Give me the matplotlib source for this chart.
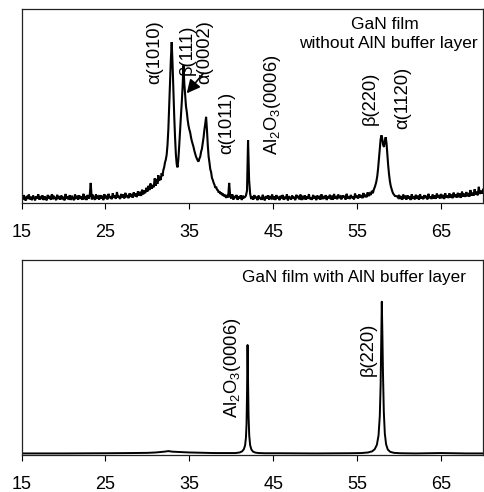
import numpy as np
import matplotlib
matplotlib.use('Agg')
import matplotlib.pyplot as plt

plt.rcParams['font.family'] = ['Liberation Sans', 'DejaVu Sans']
plt.rcParams['mathtext.fontset'] = 'custom'
plt.rcParams['mathtext.rm'] = 'Liberation Sans'
plt.rcParams['mathtext.it'] = 'Liberation Sans:italic'
plt.rcParams['mathtext.bf'] = 'Liberation Sans:bold'

# ---------------- data: top panel (GaN without AlN buffer) ----------------
# segments: (start 2theta, step, intensities)
top_seg1_start, top_seg1_step = 15.0, 0.125
top_seg1_y = [3.1, 1.8, 4.2, 2.6, 1.4, 3.8, 2.2, 4.5,
              2.0, 3.3, 1.6, 4.0, 2.9, 1.5, 3.6, 2.4,
              4.6, 1.9, 3.0, 2.3, 4.1, 1.7, 3.5, 2.8,
              1.5, 4.3, 2.5, 3.2, 1.8, 4.7, 2.1, 3.4,
              2.7, 1.6, 4.4, 2.2, 3.7, 1.9, 4.0, 2.6,
              3.3, 1.5, 4.8, 2.4, 3.0, 2.0, 4.2, 1.7,
              3.9, 2.5, 1.6, 4.5, 2.8, 3.4, 1.9, 4.1,
              2.3, 3.6, 1.8, 4.9, 2.6, 3.1, 1.7, 4.3,
              2.4, 3.8, 10.5, 2.0, 4.4, 2.7, 1.8, 4.6,
              2.9, 3.5, 1.9, 4.2, 2.4, 3.9, 1.6, 4.7,
              2.6, 3.3, 2.0, 4.9, 2.7, 3.6, 2.1, 5.2,
              2.8, 4.0, 2.3, 5.8, 2.9, 3.7, 2.2, 4.8,
              3.0, 4.5, 2.5, 5.4, 3.1, 4.2, 2.6, 5.1,
              3.3, 4.8, 2.9, 5.6, 3.6, 5.0, 3.2, 6.2,
              4.0, 5.9, 3.8, 7.0, 4.6, 6.5, 5.2, 8.0,
              6.0, 9.0, 6.8, 10.2, 7.5, 9.4, 8.2, 12.8]
top_seg2_start, top_seg2_step = 31.0, 0.1
top_seg2_y = [9.0, 12.5, 10.0, 14.5, 11.5, 13.5, 12.0, 15.5, 14.0, 17.0,
              18.5, 21.0, 22.5, 25.0, 30.0, 38.0, 50.0, 62.0, 74.0, 83.0,
              72.0, 58.0, 45.0, 34.0, 25.0, 20.0, 18.5, 23.0, 30.0, 38.0,
              45.0, 52.0, 60.0, 71.0, 62.0, 56.0, 50.0, 47.0, 43.0, 40.0,
              38.0, 36.5, 34.0, 32.0, 30.5, 29.0, 27.0, 25.5, 24.0, 23.0,
              22.0, 21.5, 23.0, 24.0, 26.5, 28.0, 31.0, 34.0, 38.0, 41.0,
              44.5, 38.0, 30.0, 24.0, 21.0, 17.5, 16.0, 13.0, 12.0, 10.5,
              9.5, 8.0, 8.5, 7.0, 6.8, 5.5, 6.2, 4.8, 5.6, 4.2]
top_seg3_start, top_seg3_step = 39.0, 0.125
top_seg3_y = [5.0, 3.6, 4.4, 2.8, 4.2, 3.0, 10.5, 3.4,
              2.5, 4.6, 1.9, 3.7, 2.7, 4.3, 1.8, 3.5,
              2.4, 4.1, 1.7, 3.9, 2.9, 3.2, 4.0, 6.5,
              32.5, 12.0, 4.8, 2.2, 3.6, 1.9, 4.2, 2.6,
              3.4, 1.6, 4.0, 2.3, 3.1, 1.8, 4.4, 2.5,
              1.5, 3.7, 2.4, 4.1, 1.9, 3.2, 2.6, 4.5,
              2.0, 3.5, 1.7, 4.2, 2.8, 3.0, 1.6, 3.9,
              2.5, 4.3, 1.8, 3.4, 2.2, 4.6, 1.5, 3.6,
              2.9, 1.9, 4.0, 2.4, 3.3, 1.6, 4.4, 2.7,
              3.8, 2.0, 4.5, 1.7, 3.2, 2.6, 4.1, 1.9,
              3.5, 2.3, 4.7, 2.1, 3.0, 1.8, 4.3, 2.5,
              3.7, 1.6, 4.0, 2.8, 3.3, 1.9, 4.6, 2.2,
              3.1, 2.4, 4.2, 1.7, 3.6, 2.6, 4.4, 2.0,
              3.9, 1.8, 4.8, 2.5, 3.2, 2.1, 4.5, 2.7,
              3.4, 2.0, 4.1, 2.9, 3.8, 1.9, 4.9, 2.4,
              3.6, 2.2, 4.3, 2.7, 3.5, 2.0, 5.0, 2.8,
              3.9, 2.5, 4.6, 3.0, 4.2, 2.6, 5.3, 3.2,
              4.4, 3.1, 5.6, 3.7, 5.0, 4.3, 6.4, 5.2,
              7.2, 8.6, 10.5]
top_seg4_start, top_seg4_step = 57.3, 0.1
top_seg4_y = [11.5, 14.0, 18.0, 23.0, 28.5, 33.0, 35.0, 33.0, 30.0, 29.0,
              32.0, 34.0, 31.0, 25.0, 19.5, 15.0, 11.5, 9.0, 7.5, 6.0,
              5.0, 4.4, 3.8]
top_seg5_start, top_seg5_step = 59.75, 0.125
top_seg5_y = [3.6, 2.9,
              4.3, 2.2, 3.7, 1.8, 4.5, 2.6, 3.3, 1.9,
              4.1, 2.4, 3.6, 1.7, 4.6, 2.8, 3.2, 2.0,
              4.4, 2.3, 3.9, 1.8, 4.7, 2.5, 3.4, 2.1,
              4.2, 2.7, 3.8, 2.0, 4.9, 2.6, 3.5, 2.2,
              4.5, 2.4, 4.0, 2.3, 5.0, 2.9, 3.7, 2.5,
              4.8, 2.6, 4.3, 2.2, 5.2, 3.0, 4.0, 2.7,
              5.1, 2.9, 4.5, 2.6, 5.5, 3.2, 4.6, 3.0,
              5.4, 3.1, 5.0, 2.8, 6.0, 3.5, 4.9, 3.3,
              5.8, 3.6, 5.3, 3.4, 6.8, 4.0, 5.5, 3.9,
              7.2, 4.4, 6.0, 4.1, 8.5, 4.8, 6.4, 5.0,
              7.0]

top_segments = [
    (top_seg1_start, top_seg1_step, top_seg1_y),
    (top_seg2_start, top_seg2_step, top_seg2_y),
    (top_seg3_start, top_seg3_step, top_seg3_y),
    (top_seg4_start, top_seg4_step, top_seg4_y),
    (top_seg5_start, top_seg5_step, top_seg5_y),
]
top_x = np.concatenate([s + st * np.arange(len(y)) for s, st, y in top_segments])
top_y = np.concatenate([np.asarray(y, float) for _, _, y in top_segments])

# ---------------- data: bottom panel (GaN with AlN buffer) ----------------
bot_x = [15, 20, 25, 28, 30, 31, 32, 32.5, 33, 34, 35, 36, 38, 39.5,
         40.5, 41.0, 41.3, 41.5, 41.65, 41.75, 41.82, 41.88, 41.94, 42.0,
         42.06, 42.14, 42.25, 42.4, 42.6, 42.9, 43.3, 44, 46, 50, 54,
         55.5, 56.3, 56.8, 57.1, 57.35, 57.55, 57.7, 57.8, 57.87, 57.94,
         58.01, 58.08, 58.18, 58.3, 58.45, 58.65, 58.95, 59.4, 60.2, 62,
         65, 68, 70]
bot_y = [0.8, 0.8, 0.9, 1.0, 1.1, 1.3, 1.7, 2.0, 1.7, 1.5, 1.3, 1.2, 1.0, 1.0,
         1.0, 1.3, 1.9, 3.0, 5.0, 9.0, 16.0, 32.0, 56.4, 38.0,
         20.0, 10.0, 5.0, 2.8, 1.7, 1.2, 1.0, 0.9, 0.9, 0.8, 0.9,
         1.0, 1.3, 1.9, 3.0, 5.2, 10.0, 20.0, 36.0, 58.0, 78.6,
         62.0, 42.0, 22.0, 11.0, 5.5, 2.8, 1.6, 1.1, 0.9, 0.8,
         1.0, 0.8, 0.8]

x_ticks = [15, 25, 35, 45, 55, 65]

top_corner = ["GaN film", "without AlN buffer layer"]
bot_corner = "GaN film with AlN buffer layer"

top_labels = ["α(1010)", "β(111)", "α(0002)", "α(1011)",
              "Al$_2$O$_3$(0006)", "β(220)", "α(1120)"]
top_label_x = [30.91, 34.7, 36.85, 39.5, 44.86, 56.6, 60.4]
top_label_y = [77.9, 79.0, 77.9, 41.6, 50.8, 54.2, 54.5]

bot_labels = ["Al$_2$O$_3$(0006)", "β(220)"]
bot_label_x = [40.09, 56.3]
bot_label_y = [44.9, 54.4]

# ---------------- figure ----------------
W, H = 485, 492
fig = plt.figure(figsize=(W / 100, H / 100), dpi=100)

def px_axes(left, top, right, bottom):
    return fig.add_axes([left / W, 1 - bottom / H, (right - left) / W, (bottom - top) / H])

ax1 = px_axes(21.5, 9, 483, 203.3)
ax2 = px_axes(21.5, 260, 483, 455)

for ax in (ax1, ax2):
    ax.set_xlim(15, 70)
    ax.set_ylim(0, 100)
    ax.set_yticks([])
    ax.set_xticks(x_ticks)
    ax.set_xticklabels([str(t) for t in x_ticks])
    ax.tick_params(axis='x', direction='out', length=4, width=0.8,
                   labelsize=13, pad=11, colors='black')
    for sp in ax.spines.values():
        sp.set_linewidth(0.9)
        sp.set_color('#222222')

ax1.plot(top_x, top_y, color='black', lw=1.5, solid_joinstyle='miter')
ax2.plot(bot_x, bot_y, color='black', lw=1.4)

lab_fs = 13.2
for t, x, y in zip(top_labels, top_label_x, top_label_y):
    ax1.text(x, y, t, rotation=90, ha='center', va='center', fontsize=lab_fs)
for t, x, y in zip(bot_labels, bot_label_x, bot_label_y):
    ax2.text(x, y, t, rotation=90, ha='center', va='center', fontsize=lab_fs)

ax1.annotate("", xy=(34.69, 56.6), xytext=(36.67, 66.9),
             arrowprops=dict(arrowstyle='-|>', color='black', lw=1.2,
                             mutation_scale=20, shrinkA=0, shrinkB=0))

ax1.text(0.7877, 0.920, top_corner[0], transform=ax1.transAxes,
         ha='center', va='center', fontsize=12.5)
ax1.text(0.795, 0.822, top_corner[1], transform=ax1.transAxes,
         ha='center', va='center', fontsize=12.5)
ax2.text(0.7205, 0.908, bot_corner, transform=ax2.transAxes,
         ha='center', va='center', fontsize=12.3)

fig.savefig("out.png", dpi=100)
